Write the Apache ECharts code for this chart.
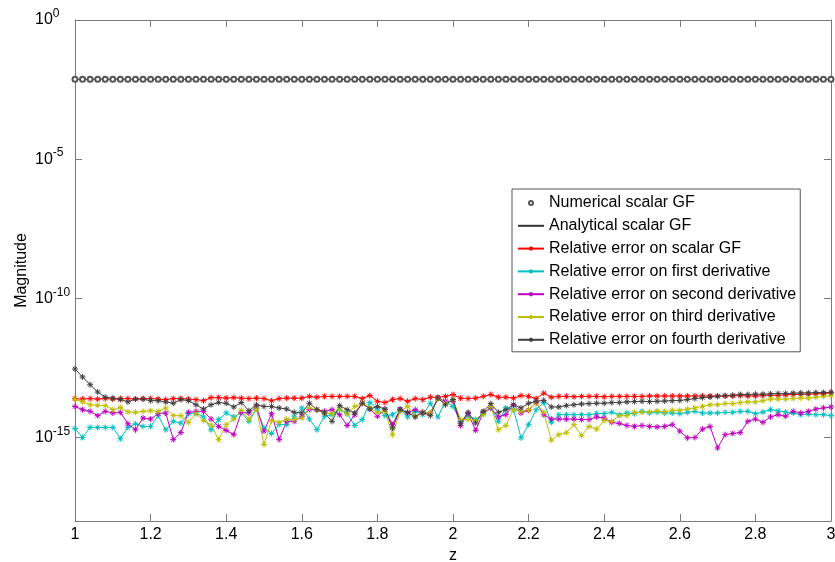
<!DOCTYPE html>
<html>
<head>
<meta charset="utf-8">
<script src="https://cdn.jsdelivr.net/npm/echarts@6/dist/echarts.min.js"></script>
<style>
  html, body { margin: 0; padding: 0; background: #fff; }
  #chart { width: 835px; height: 562px; }
</style>
</head>
<body>
<div id="chart"></div>
<script>
// sample points along z
const zValues = [
  1.00, 1.02, 1.04, 1.06, 1.08, 1.10, 1.12, 1.14, 1.16, 1.18,
  1.20, 1.22, 1.24, 1.26, 1.28, 1.30, 1.32, 1.34, 1.36, 1.38,
  1.40, 1.42, 1.44, 1.46, 1.48, 1.50, 1.52, 1.54, 1.56, 1.58,
  1.60, 1.62, 1.64, 1.66, 1.68, 1.70, 1.72, 1.74, 1.76, 1.78,
  1.80, 1.82, 1.84, 1.86, 1.88, 1.90, 1.92, 1.94, 1.96, 1.98,
  2.00, 2.02, 2.04, 2.06, 2.08, 2.10, 2.12, 2.14, 2.16, 2.18,
  2.20, 2.22, 2.24, 2.26, 2.28, 2.30, 2.32, 2.34, 2.36, 2.38,
  2.40, 2.42, 2.44, 2.46, 2.48, 2.50, 2.52, 2.54, 2.56, 2.58,
  2.60, 2.62, 2.64, 2.66, 2.68, 2.70, 2.72, 2.74, 2.76, 2.78,
  2.80, 2.82, 2.84, 2.86, 2.88, 2.90, 2.92, 2.94, 2.96, 2.98,
  3.00
];

// scalar GF magnitude (numerical and analytical overlap)
const scalarGF = [
  0.0074, 0.0074, 0.0074, 0.0074, 0.0074, 0.0074, 0.0074, 0.0074, 0.0074, 0.0074,
  0.0074, 0.0074, 0.0074, 0.0074, 0.0074, 0.0074, 0.0074, 0.0074, 0.0074, 0.0074,
  0.0074, 0.0074, 0.0074, 0.0074, 0.0074, 0.0074, 0.0074, 0.0074, 0.0074, 0.0074,
  0.0074, 0.0074, 0.0074, 0.0074, 0.0074, 0.0074, 0.0074, 0.0074, 0.0074, 0.0074,
  0.0074, 0.0074, 0.0074, 0.0074, 0.0074, 0.0074, 0.0074, 0.0074, 0.0074, 0.0074,
  0.0074, 0.0074, 0.0074, 0.0074, 0.0074, 0.0074, 0.0074, 0.0074, 0.0074, 0.0074,
  0.0074, 0.0074, 0.0074, 0.0074, 0.0074, 0.0074, 0.0074, 0.0074, 0.0074, 0.0074,
  0.0074, 0.0074, 0.0074, 0.0074, 0.0074, 0.0074, 0.0074, 0.0074, 0.0074, 0.0074,
  0.0074, 0.0074, 0.0074, 0.0074, 0.0074, 0.0074, 0.0074, 0.0074, 0.0074, 0.0074,
  0.0074, 0.0074, 0.0074, 0.0074, 0.0074, 0.0074, 0.0074, 0.0074, 0.0074, 0.0074,
  0.0074
];

// relative errors, in units of 1e-15
const errScalar = [
  25, 24, 25, 24, 25, 24, 25, 25, 24, 25,
  25, 24, 23, 25, 25, 24, 23, 21, 27, 27,
  26, 27, 26, 25, 26, 25, 21, 25, 26, 26,
  26, 30, 28, 30, 30, 30, 30, 30, 25, 32,
  20, 18, 23, 25, 20, 25, 23, 28, 28, 30,
  35, 26, 25, 26, 30, 35, 28, 28, 26, 32,
  30, 25, 39, 28, 30, 30, 29, 30, 30, 30,
  29, 30, 30, 30, 30, 30, 31, 31, 31, 31,
  31, 31, 31, 31, 31, 31, 31, 31, 32, 31,
  31, 32, 33, 33, 34, 35, 35, 36, 37, 38,
  40
];
const errFirst = [
  2.1, 1.0, 2.3, 2.3, 2.3, 2.3, 0.91, 2.3, 3.1, 2.5,
  2.5, 6.1, 1.9, 3.8, 3.3, 7.2, 7.6, 5.5, 1.9, 4.4,
  7.6, 5.5, 8.0, 3.8, 10.5, 2.2, 1.4, 2.9, 2.9, 5.5,
  11.5, 4.6, 1.9, 5.8, 6.6, 10, 7.2, 2.7, 4.4, 18,
  10.5, 6.1, 6.6, 10, 5.5, 8.7, 6.6, 17, 5.5, 20,
  13, 3.8, 6.1, 4.4, 7.2, 11.5, 3.8, 11.5, 10.5, 0.97,
  2.9, 10, 18, 3.5, 6.6, 6.6, 6.6, 6.6, 6.6, 7.2,
  7.2, 8.0, 6.6, 7.6, 7.2, 8.7, 7.6, 8.0, 7.6, 7.6,
  7.2, 8.0, 8.7, 7.6, 7.6, 7.6, 8.0, 8.0, 8.7, 8.7,
  7.2, 8.2, 10, 9.0, 8.2, 7.6, 6.6, 7.0, 6.6, 6.6,
  6.1
];
const errSecond = [
  13, 10, 8.7, 6.1, 8.7, 7.6, 8.0, 3.1, 1.9, 5.0,
  4.6, 7.2, 7.6, 0.84, 1.5, 8.0, 8.7, 8.7, 4.6, 2.5,
  1.8, 1.27, 8.0, 7.6, 12.5, 1.7, 7.2, 0.84, 3.8, 3.8,
  5.8, 10, 10, 8.7, 10, 6.6, 2.7, 6.6, 17, 10.5,
  5.8, 10, 2.9, 10.5, 7.6, 10, 7.6, 7.6, 26, 20,
  20, 2.7, 7.2, 1.8, 8.0, 11.5, 5.5, 6.6, 15, 7.6,
  9.5, 18, 6.6, 4.6, 4.6, 4.6, 4.6, 4.4, 4.4, 5.5,
  5.0, 3.5, 3.2, 2.7, 2.5, 2.7, 2.5, 2.4, 2.5, 2.9,
  1.7, 0.97, 1.0, 2.0, 2.5, 0.42, 1.27, 1.4, 1.5, 3.8,
  4.6, 3.5, 5.5, 6.6, 5.8, 8.7, 7.6, 8.7, 10.5, 11.5,
  12.5
];
const errThird = [
  24, 19, 15, 14.3, 14, 10, 12, 8.3, 8.0, 8.7,
  9.2, 8.7, 11.5, 6.1, 6.1, 3.5, 7.2, 4.1, 2.8, 0.84,
  2.9, 4.6, 9.5, 4.6, 10.5, 0.56, 4.0, 3.5, 4.6, 4.4,
  5.0, 11.5, 10, 7.6, 7.2, 10.5, 7.0, 13, 17, 11.5,
  8.0, 8.7, 1.27, 8.7, 13, 5.8, 8.0, 7.6, 24, 17,
  23, 4.4, 4.4, 4.0, 6.6, 13, 1.9, 2.7, 10, 8.7,
  10, 17, 8.0, 0.8, 1.27, 1.5, 2.9, 1.17, 2.5, 2.0,
  4.1, 3.8, 6.1, 6.1, 8.0, 8.0, 8.3, 9.0, 8.5, 9.5,
  9.5, 10.5, 11.5, 13, 15, 15, 16.5, 16.5, 18, 19,
  19, 21, 24, 24, 24, 25, 26, 26, 28, 30,
  32
];
const errFourth = [
  290, 150, 79, 43, 28, 26, 23, 19, 24, 24,
  21, 21, 19, 17, 23, 21, 15, 10.5, 15, 18,
  17, 12.5, 18, 9.2, 15, 13, 13, 11.5, 10.5, 8.0,
  7.6, 17, 10, 7.6, 3.8, 14, 10, 7.6, 17, 10.5,
  13, 10.5, 2.2, 10, 8.0, 5.5, 8.0, 6.1, 26, 15,
  23, 3.3, 8.0, 3.3, 8.7, 16.5, 8.0, 10, 15, 11.5,
  17, 20, 21.5, 12.5, 12.5, 14, 15, 16, 16.5, 17,
  17, 18, 18, 19, 19.5, 20, 19.5, 20, 20.5, 21,
  21.5, 23, 25, 27, 28.5, 30, 32, 33, 35, 35,
  36, 36, 37, 38, 38, 39, 40, 40, 41, 41,
  42
];
const errUnit = 1e-15;

const yTickValues = [1e-15, 1e-10, 1e-5, 1];
const xTickLabels = ['1', '1.2', '1.4', '1.6', '1.8', '2', '2.2', '2.4', '2.6', '2.8', '3'];

const font = 'Arial, "Liberation Sans", sans-serif';
const axisGray = '#7a7a7a';
const star = 'path://M0,-1L0,1M-1,0L1,0M-0.7,-0.7L0.7,0.7M-0.7,0.7L0.7,-0.7';

function pairs(vals, unit) {
  return zValues.map((z, i) => [z, vals[i] * unit]);
}

function errSeries(name, vals, color) {
  return {
    name: name,
    type: 'line',
    data: pairs(vals, errUnit),
    symbol: star,
    symbolSize: 6,
    lineStyle: { color: color, width: 1 },
    itemStyle: { color: color, borderColor: color, borderWidth: 1 },
    emphasis: { disabled: true },
    animation: false
  };
}

const chart = echarts.init(document.getElementById('chart'));

const xBase = {
  type: 'value',
  min: 1,
  max: 3,
  interval: 0.2,
  axisLine: { lineStyle: { color: axisGray, width: 1 } },
  axisTick: { inside: true, length: 7, lineStyle: { color: axisGray } },
  splitLine: { show: false }
};
const yBase = {
  type: 'log',
  logBase: 10,
  min: 1e-18,
  max: 1,
  axisLine: { show: true, lineStyle: { color: axisGray, width: 1 } },
  axisTick: { inside: true, length: 7, customValues: yTickValues, lineStyle: { color: axisGray } },
  splitLine: { show: false },
  minorTick: { show: false }
};

chart.setOption({
  backgroundColor: '#fff',
  textStyle: { fontFamily: font },
  grid: { left: 75, right: 4, top: 20, bottom: 41, outerBoundsMode: 'none', containLabel: false },
  legend: {
    orient: 'vertical',
    left: 512,
    top: 189,
    padding: [6, 4, 4, 5],
    itemWidth: 26,
    itemHeight: 5,
    itemGap: 6.8,
    backgroundColor: '#fff',
    borderColor: '#555',
    borderWidth: 1,
    borderRadius: 0,
    textStyle: { fontFamily: font, fontSize: 16, color: '#000', lineHeight: 16 },
    data: [
      { name: 'Numerical scalar GF', lineStyle: { opacity: 0 } },
      { name: 'Analytical scalar GF', itemStyle: { opacity: 0 } },
      'Relative error on scalar GF',
      'Relative error on first derivative',
      'Relative error on second derivative',
      'Relative error on third derivative',
      'Relative error on fourth derivative'
    ]
  },
  xAxis: [
    Object.assign({}, xBase, {
      position: 'bottom',
      name: 'z',
      nameLocation: 'middle',
      nameGap: 23,
      nameTextStyle: { fontSize: 16, color: '#000', fontFamily: font },
      axisLabel: {
        fontSize: 16, color: '#000', margin: 6, fontFamily: font,
        formatter: (v) => xTickLabels[Math.round((v - 1) / 0.2)]
      }
    }),
    Object.assign({}, xBase, { position: 'top', axisLabel: { show: false } })
  ],
  yAxis: [
    Object.assign({}, yBase, {
      position: 'left',
      name: 'Magnitude',
      nameLocation: 'middle',
      nameGap: 45,
      nameMoveOverlap: false,
      nameTextStyle: { fontSize: 16, color: '#000', fontFamily: font },
      axisLabel: {
        customValues: yTickValues,
        margin: 40,
        align: 'left',
        formatter: (v) => '{b|10}{s|' + Math.round(Math.log10(v)) + '}',
        rich: {
          b: { fontSize: 16, color: '#000', fontFamily: font },
          s: { fontSize: 12, color: '#000', fontFamily: font, padding: [0, 0, 12, 0] }
        }
      }
    }),
    Object.assign({}, yBase, { position: 'right', axisLabel: { show: false } })
  ],
  series: [
    {
      name: 'Numerical scalar GF',
      type: 'line',
      data: pairs(scalarGF, 1),
      symbol: 'emptyCircle',
      symbolSize: 5,
      lineStyle: { opacity: 0 },
      itemStyle: { color: '#555', borderColor: '#555', borderWidth: 1 },
      emphasis: { disabled: true },
      animation: false,
      z: 3
    },
    {
      name: 'Analytical scalar GF',
      type: 'line',
      data: pairs(scalarGF, 1),
      symbol: 'none',
      lineStyle: { color: '#333', width: 1 },
      itemStyle: { color: '#333' },
      emphasis: { disabled: true },
      animation: false,
      z: 2
    },
    errSeries('Relative error on scalar GF', errScalar, '#ff0000'),
    errSeries('Relative error on first derivative', errFirst, '#00bfbf'),
    errSeries('Relative error on second derivative', errSecond, '#bf00bf'),
    errSeries('Relative error on third derivative', errThird, '#bfbf00'),
    errSeries('Relative error on fourth derivative', errFourth, '#404040')
  ]
});
</script>
</body>
</html>
